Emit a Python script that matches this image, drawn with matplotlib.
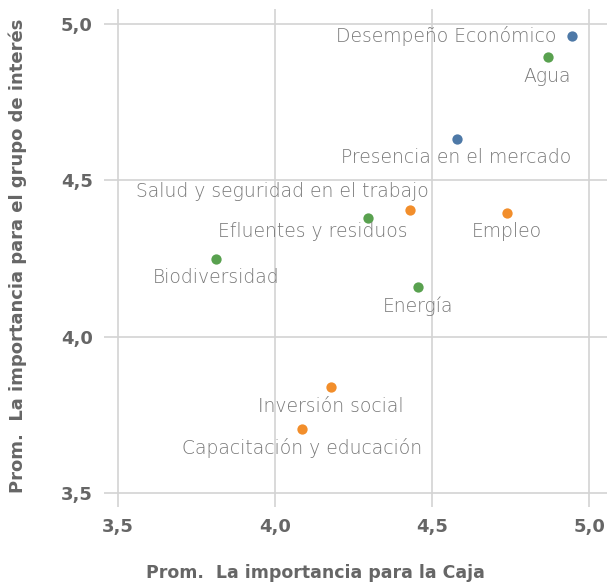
import matplotlib.pyplot as plt
from matplotlib.ticker import FuncFormatter

# Data
temas = ['Desempeño Económico', 'Agua', 'Presencia en el mercado',
         'Salud y seguridad en el trabajo', 'Efluentes y residuos', 'Empleo',
         'Biodiversidad', 'Energía', 'Inversión social', 'Capacitación y educación']
imp_caja = [4.947, 4.868, 4.578, 4.430, 4.296, 4.738, 3.812, 4.455, 4.178, 4.085]
imp_grupo = [4.960, 4.893, 4.633, 4.405, 4.379, 4.396, 4.249, 4.158, 3.838, 3.705]
dimension = ['eco', 'amb', 'eco', 'soc', 'amb', 'soc', 'amb', 'amb', 'soc', 'soc']

colores = {'eco': '#4e79a7', 'amb': '#59a14f', 'soc': '#f28e2b'}

# label placement: (offset x pts, offset y pts, ha)
label_pos = {
    'Desempeño Económico': (-11.5, 0, 'right'),
    'Salud y seguridad en el trabajo': (-92, 13, 'center'),
    'Efluentes y residuos': (-40, -10, 'center'),
}

fig = plt.figure(figsize=(6.07, 5.85), dpi=100)
ax = fig.add_axes([0.171, 0.133, 0.829, 0.852])

for t, x, y, d in zip(temas, imp_caja, imp_grupo, dimension):
    ax.scatter(x, y, s=55, color=colores[d], zorder=3, linewidths=0)
    dx, dy, ha = label_pos.get(t, (0, -13.5, 'center'))
    ax.annotate(t, (x, y), xytext=(dx, dy), textcoords='offset points',
                ha=ha, va='center', fontsize=13.5, color='#777777',
                family='DejaVu Sans', fontweight='light', zorder=4)

ax.set_xlim(3.455, 5.057)
ax.set_ylim(3.455, 5.048)
ax.set_xticks([3.5, 4.0, 4.5, 5.0])
ax.set_yticks([3.5, 4.0, 4.5, 5.0])
fmt = FuncFormatter(lambda v, p: f'{v:.1f}'.replace('.', ','))
ax.xaxis.set_major_formatter(fmt)
ax.yaxis.set_major_formatter(fmt)
ax.tick_params(length=0, labelsize=13, labelcolor='#666666', pad=8)
for lab in ax.get_xticklabels() + ax.get_yticklabels():
    lab.set_fontweight('bold')
for s in ax.spines.values():
    s.set_visible(False)
ax.grid(True, color='#d3d3d3', linewidth=1.2)
ax.set_axisbelow(True)

fig.text(315 / 607, 1 - 573 / 585, 'Prom.  La importancia para la Caja',
         ha='center', va='center', fontsize=12.5, fontweight='bold', color='#666666')
fig.text(18 / 607, 1 - 256 / 585, 'Prom.  La importancia para el grupo de interés',
         ha='center', va='center', rotation=90, fontsize=13, fontweight='bold',
         color='#666666')

fig.savefig('out.png', dpi=100)
